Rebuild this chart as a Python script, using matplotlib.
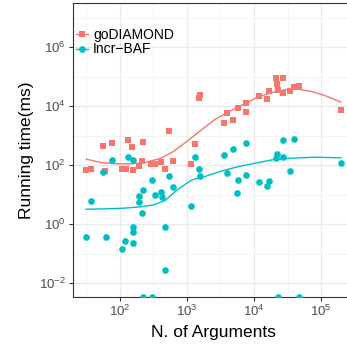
import numpy as np
import matplotlib
matplotlib.use('Agg')
import matplotlib.pyplot as plt
from matplotlib.lines import Line2D
from matplotlib.ticker import LogLocator, LogFormatterMathtext, FixedLocator, NullFormatter

plt.rcParams['font.family'] = ['Liberation Sans', 'DejaVu Sans']
plt.rcParams['mathtext.fontset'] = 'custom'
plt.rcParams['mathtext.rm'] = 'Liberation Sans'
plt.rcParams['mathtext.it'] = 'Liberation Sans:italic'
plt.rcParams['axes.unicode_minus'] = True

SALMON = '#F8766D'
TEAL = '#00BFC4'

# ── goDIAMOND runs (number of arguments, running time in ms) ──────────────────
god_args = [32, 38, 57, 78, 61, 135, 155, 225, 110, 123, 160, 196, 217, 293,
            336, 407, 473, 628, 547, 1160, 1330, 1570, 1510, 3620, 3990, 4890,
            5700, 7630, 7700, 11700, 15500, 16700, 21150, 26950, 21960, 22420,
            27150, 33900, 39150, 46300, 196800]
god_ms = [67, 77, 462, 584, 66, 738, 427, 631, 73, 73, 68, 97, 140, 113,
          113, 132, 75, 143, 1455, 111, 527, 24700, 19300, 2610, 5700, 3515,
          8830, 13250, 6460, 22860, 17820, 33270, 92500, 92500, 57000, 36500,
          28900, 33800, 44100, 49500, 7500]

# ── Incr-BAF runs (0 ms means below timer resolution) ─────────────────────────
baf_args = [31, 37, 56, 62, 78, 110, 119, 135, 156, 157, 157, 157, 193, 193,
            212, 219, 221, 299, 304, 337, 407, 421, 470, 478, 547, 615, 1150,
            1330, 1490, 1580, 3560, 3990, 4890, 5550, 5810, 7580, 7660, 11830,
            15500, 16480, 21090, 21830, 22600, 26600, 26800, 34100, 39800,
            46500, 196800]
baf_ms = [0.38, 6.0, 60, 0.36, 151, 0.148, 0.276, 196, 145, 0.79, 0.527,
          0.229, 9.3, 5.57, 2.36, 14, 0, 0, 32.2, 9.4, 12.25, 8.49, 0.029,
          0.81, 42, 17.9, 4.11, 187, 76.7, 42, 222, 56.1, 360, 11.2, 32.2,
          557, 48, 26.7, 19.4, 28.9, 177, 236, 0, 704, 191, 64.1, 767, 0, 122]

# ── smoothed trends ───────────────────────────────────────────────────────────
god_fit_x = [31.7, 51.6, 89.3, 144, 241, 403, 628, 979, 1528, 2642, 3981,
             6653, 11510, 20560, 32140, 45190, 72950, 113800, 196800]
god_fit_y = [160, 124, 111, 111, 124, 170, 289, 617, 1377, 3622, 6067,
             11070, 20650, 31260, 37670, 37670, 31260, 22860, 13680]
baf_fit_x = [31.7, 61.4, 113.5, 203.2, 316.9, 477.5, 744.7, 1191, 1884,
             3327, 5861, 10370, 18370, 36480, 80910, 196800]
baf_fit_y = [3.22, 3.30, 3.48, 3.85, 4.51, 6.41, 15.7, 31.8, 41.7, 64.1,
             89.7, 117, 151, 173, 187, 177]

XLIM = (10 ** 1.305, 10 ** 5.484)
YLIM = (10 ** -2.47, 10 ** 7.51)

W, H = 347, 352
fig = plt.figure(figsize=(W / 100, H / 100), dpi=100)
ax = fig.add_axes([73 / W, (H - 297) / H, (353.8 - 73) / W, (297 - 2.7) / H])
ax.set_xscale('log')
ax.set_yscale('log')
ax.set_xlim(*XLIM)
ax.set_ylim(*YLIM)

# grid: majors every decade (x) / two decades (y), minors in between
ax.xaxis.set_major_locator(FixedLocator([1e2, 1e3, 1e4, 1e5]))
ax.xaxis.set_minor_locator(FixedLocator([10 ** 1.5, 10 ** 2.5, 10 ** 3.5, 10 ** 4.5, 10 ** 5.5]))
ax.yaxis.set_major_locator(FixedLocator([1e-2, 1e0, 1e2, 1e4, 1e6]))
ax.yaxis.set_minor_locator(FixedLocator([1e-1, 1e1, 1e3, 1e5, 1e7]))
ax.xaxis.set_major_formatter(LogFormatterMathtext())
ax.yaxis.set_major_formatter(LogFormatterMathtext())
ax.xaxis.set_minor_formatter(NullFormatter())
ax.yaxis.set_minor_formatter(NullFormatter())
ax.grid(which='major', color='#EBEBEB', lw=1.0)
ax.grid(which='minor', color='#F2F2F2', lw=0.6)
ax.set_axisbelow(True)

for s in ax.spines.values():
    s.set_color('#333333')
    s.set_linewidth(0.8)
ax.tick_params(which='major', length=3, width=0.8, color='#333333',
               labelcolor='#4D4D4D', labelsize=9.5, pad=2)
ax.tick_params(which='minor', length=0)

# zero timings sit on the lower edge, like -Inf on a log axis
baf_plot = [v if v > 0 else YLIM[0] for v in baf_ms]

ax.plot(god_fit_x, god_fit_y, color=SALMON, lw=1.0, zorder=2)
ax.plot(baf_fit_x, baf_fit_y, color=TEAL, lw=1.0, zorder=2)
ax.plot(god_args, god_ms, 's', color=SALMON, ms=4.2, mew=0, zorder=3)
ax.plot(baf_args, baf_plot, 'o', color=TEAL, ms=4.8, mew=0, zorder=3)

ax.set_xlabel('N. of Arguments', fontsize=12.5, labelpad=4)
ax.set_ylabel('Running time(ms)', fontsize=12.5, labelpad=4)

handles = [
    Line2D([], [], color=SALMON, lw=1.0, marker='s', ms=4.2, mew=0),
    Line2D([], [], color=TEAL, lw=1.0, marker='o', ms=4.8, mew=0),
]
ax.legend(handles, ['goDIAMOND', 'Incr\u2212BAF'], loc='upper left',
          bbox_to_anchor=(0.01, 0.915), frameon=False, fontsize=10,
          handlelength=0.9, handletextpad=0.35, labelspacing=0.05,
          borderpad=0, borderaxespad=0)

fig.savefig('out.png', dpi=100)
